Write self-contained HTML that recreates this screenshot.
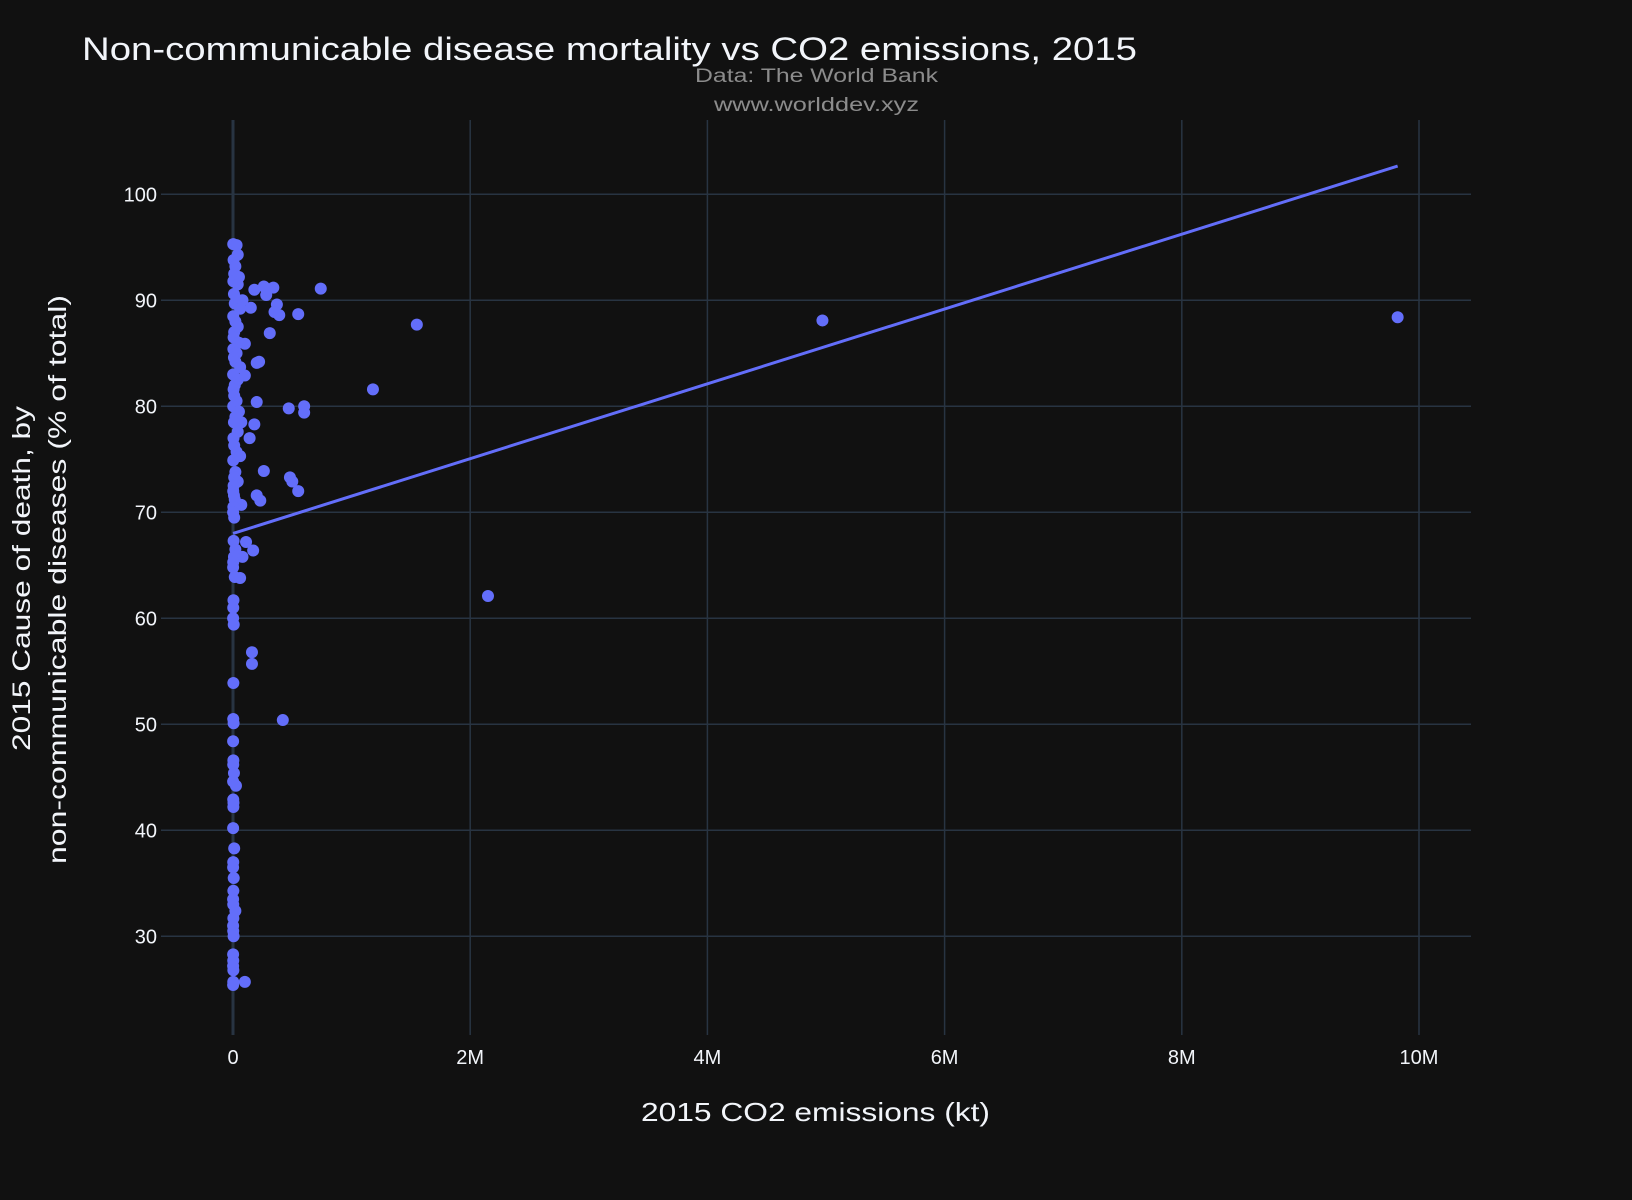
<!DOCTYPE html>
<html><head><meta charset="utf-8"><style>
html,body{margin:0;padding:0;background:#111111;}
svg{display:block;font-family:"Liberation Sans","DejaVu Sans",sans-serif;}
</style></head><body>
<svg id="chart" width="1632" height="1200" viewBox="0 0 1632 1200" xmlns="http://www.w3.org/2000/svg">
<rect width="1632" height="1200" fill="#111111"/>
<g id="grid"></g>
<g id="ticks"></g>
<g id="marks"></g>
<text x="82" y="60" font-size="32" fill="#f2f5fa" textLength="1055" lengthAdjust="spacingAndGlyphs">Non-communicable disease mortality vs CO2 emissions, 2015</text>
<text x="695" y="82" font-size="19" fill="#8c8c8c" textLength="243" lengthAdjust="spacingAndGlyphs">Data: The World Bank</text>
<text x="714" y="111" font-size="19" fill="#8c8c8c" textLength="205" lengthAdjust="spacingAndGlyphs">www.worlddev.xyz</text>
<text x="641" y="1121" font-size="26" fill="#f2f5fa" textLength="349" lengthAdjust="spacingAndGlyphs">2015 CO2 emissions (kt)</text>
<g transform="translate(30,751) rotate(-90)">
<text x="0" y="0" font-size="25" fill="#f2f5fa" textLength="345" lengthAdjust="spacingAndGlyphs">2015 Cause of death, by</text>
</g>
<g transform="translate(66,864) rotate(-90)">
<text x="0" y="0" font-size="25" fill="#f2f5fa" textLength="569" lengthAdjust="spacingAndGlyphs">non-communicable diseases (% of total)</text>
</g>
</svg>
<script>
const xTicks = [0, 2e6, 4e6, 6e6, 8e6, 10e6];
const xTickLabels = ["0", "2M", "4M", "6M", "8M", "10M"];
const yTicks = [30, 40, 50, 60, 70, 80, 90, 100];
const yTickLabels = ["30", "40", "50", "60", "70", "80", "90", "100"];
const xValues = [9.82e6,4.97e6,2.15e6,1.55e6,1.18e6,740000,600000,600000,550000,550000,470000,480000,500000,420000,340000,260000,280000,370000,390000,350000,310000,220000,200000,200000,180000,140000,260000,200000,230000,170000,110000,160000,160000,100000,180000,150000,80000,100000,100000,70000,70000,60000,80000,
2000,30000,40000,5000,20000,10000,50000,3000,40000,8000,30000,15000,60000,2000,20000,40000,10000,5000,50000,3000,30000,8000,20000,60000,1000,40000,15000,5000,10000,30000,2000,50000,20000,8000,40000,4000,10000,30000,60000,2000,20000,10000,40000,5000,2000,8000,15000,3000,1000,10000,5000,20000,8000,2000,1000,15000,4000,2000,1000,6000,3000,2000,5000,1000,3000,2000,8000,1000,25000,2000,4000,3000,1000,10000,2000,1000,6000,3000,1000,2000,20000,3000,1000,2000,5000,1000,2000,1000,3000,2000,1000,2000,1000];
const yValues = [88.4,88.1,62.1,87.7,81.6,91.1,80,79.4,88.7,72,79.8,73.3,72.9,50.4,91.2,91.3,90.5,89.6,88.6,88.9,86.9,84.2,84.1,80.4,78.3,77,73.9,71.6,71.1,66.4,67.2,56.8,55.7,25.7,91,89.3,90,85.9,82.9,78.5,70.7,63.8,65.8,
95.3,95.2,94.3,93.8,93.2,92.5,92.2,91.8,91.5,90.6,90.1,89.7,89.2,88.5,88,87.5,87,86.5,86,85.4,85,84.6,84.2,83.7,83,82.5,82,81.6,81,80.5,80,79.5,79,78.5,77.6,77,76.3,75.7,75.3,74.9,73.8,73.3,72.9,72.5,72,71.6,71.2,70.5,70,69.5,67.3,66.5,65.8,65.3,64.8,63.9,61.7,61,60,59.4,53.9,50.5,50.1,48.4,46.6,46.2,45.4,44.6,44.2,42.9,42.6,42.2,40.2,38.3,37,36.5,35.5,34.3,33.5,33,32.4,31.7,31,30.5,30,28.3,27.7,27.2,26.8,25.7,25.4];
const trendIntercept = [68.0];
const trendSlopePerUnit = [3.53e-6];

const NS = "http://www.w3.org/2000/svg";
const L = 161, R = 1471, T = 120, B = 1035;
function xScale(v){ return 233 + v / 10e6 * (1419 - 233); }
function yScale(v){ return 300.3 + (90 - v) * 10.6; }
function mk(tag, attrs, parent){ const e = document.createElementNS(NS, tag); for (const k in attrs) e.setAttribute(k, attrs[k]); parent.appendChild(e); return e; }
const grid = document.getElementById('grid'), ticks = document.getElementById('ticks'), marks = document.getElementById('marks');
yTicks.forEach((v, i) => {
  const ln = mk('line', {x1: L, x2: R, y1: yScale(v), y2: yScale(v), stroke: '#283442', 'stroke-width': 1.5}, grid);
  
  
  const t = mk('text', {x: 157, y: yScale(v) + 7, 'font-size': 20, fill: '#f2f5fa', 'text-anchor': 'end'}, ticks);
  t.textContent = yTickLabels[i];
  
  
});
xTicks.forEach((v, i) => {
  const ln = mk('line', {x1: xScale(v), x2: xScale(v), y1: T, y2: B, stroke: '#283442', 'stroke-width': i === 0 ? 3 : 1.5}, grid);
  
  
  const t = mk('text', {x: xScale(v), y: 1064, 'font-size': 20, fill: '#f2f5fa', 'text-anchor': 'middle'}, ticks);
  t.textContent = xTickLabels[i];
  
  
});
const n = Math.min(xValues.length, yValues.length);
for (let i = 0; i < n; i++) {
  const c = mk('circle', {cx: xScale(xValues[i]), cy: yScale(yValues[i]), r: 6, fill: '#636efa'}, marks);
  
  
}
const xmin = Math.min(...xValues), xmax = Math.max(...xValues);
const tl = mk('line', {x1: xScale(xmin), y1: yScale(trendIntercept[0] + trendSlopePerUnit[0] * xmin), x2: xScale(xmax), y2: yScale(trendIntercept[0] + trendSlopePerUnit[0] * xmax), stroke: '#636efa', 'stroke-width': 3}, marks);


</script>
</body></html>
